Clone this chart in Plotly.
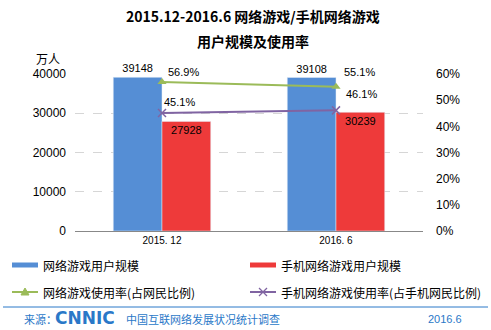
import plotly.graph_objects as go

categories = ["2015. 12", "2016. 6"]
game_users = [39148, 39108]
mobile_game_users = [27928, 30239]
game_rate = [56.9, 55.1]
mobile_game_rate = [45.1, 46.1]
left_ticks = [0, 10000, 20000, 30000, 40000]
right_ticks = [0, 10, 20, 30, 40, 50, 60]

W, H = 491, 330
L, R, T, B = 75, 423, 74, 231

def px(x):
    return (x - L) / (R - L)

def py(y):
    return (B - y) / (B - T)

BLUE = "#558ED5"
RED = "#EE3A3A"
GREEN = "#9BBB59"
PURPLE = "#8064A2"
FOOT = "#2A78C8"
CJK = "Noto Sans CJK SC, Microsoft YaHei, sans-serif"
NUM = "Liberation Sans, Arial, sans-serif"

fig = go.Figure()
fig.add_trace(go.Bar(x=categories, y=game_users, name="网络游戏用户规模",
                     marker_color=BLUE, text=[str(v) for v in game_users],
                     textposition="outside", textfont=dict(family=NUM, size=11, color="#000"),
                     cliponaxis=False))
fig.add_trace(go.Bar(x=categories, y=mobile_game_users, name="手机网络游戏用户规模",
                     marker_color=RED, text=[str(v) for v in mobile_game_users],
                     textposition="inside", insidetextanchor="end",
                     textfont=dict(family=NUM, size=11, color="#000")))
fig.add_trace(go.Scatter(x=categories, y=game_rate, yaxis="y2", mode="lines+markers",
                         line=dict(color=GREEN, width=2),
                         marker=dict(symbol="triangle-up", size=8, color=GREEN),
                         name="网络游戏使用率(占网民比例)"))
fig.add_trace(go.Scatter(x=categories, y=mobile_game_rate, yaxis="y2", mode="lines+markers",
                         line=dict(color=PURPLE, width=2),
                         marker=dict(symbol="x-thin", size=8, color=PURPLE,
                                     line=dict(color=PURPLE, width=1.5)),
                         name="手机网络游戏使用率(占手机网民比例)"))

def note(x, y, text, font, xanchor="center"):
    return dict(xref="paper", yref="paper", x=px(x), y=py(y), text=text, showarrow=False,
                xanchor=xanchor, yanchor="middle", font=font)

ann = []
g_shift = [(21, 10), (23, 15)]
m_shift = [(17, 11), (25, 16)]
for i, c in enumerate(categories):
    ann.append(dict(x=c, y=game_rate[i], yref="y2", text=f"{game_rate[i]}%", showarrow=False,
                    xshift=g_shift[i][0], yshift=g_shift[i][1], xanchor="center", yanchor="middle",
                    font=dict(family=NUM, size=11, color="#000")))
    ann.append(dict(x=c, y=mobile_game_rate[i], yref="y2", text=f"{mobile_game_rate[i]}%", showarrow=False,
                    xshift=m_shift[i][0], yshift=m_shift[i][1], xanchor="center", yanchor="middle",
                    font=dict(family=NUM, size=11, color="#000")))

# title
ann.append(note(253, 16, "<b>2015.12-2016.6 网络游戏/手机网络游戏</b>", dict(family=CJK, size=14, color="#000")))
ann.append(note(253, 41, "<b>用户规模及使用率</b>", dict(family=CJK, size=14, color="#000")))
ann.append(note(48, 58, "万人", dict(family=CJK, size=12, color="#000")))

# legend
shapes = []
leg = [(12, 265, BLUE, "bar", "网络游戏用户规模"),
       (250, 265, RED, "bar", "手机网络游戏用户规模"),
       (12, 292, GREEN, "tri", "网络游戏使用率(占网民比例)"),
       (250, 292, PURPLE, "x", "手机网络游戏使用率(占手机网民比例)")]
for x0, y0, col, kind, txt in leg:
    w = 5 if kind == "bar" else 2
    shapes.append(dict(type="line", xref="paper", yref="paper", x0=px(x0), x1=px(x0 + 26),
                       y0=py(y0), y1=py(y0), line=dict(color=col, width=w)))
    ann.append(note(x0 + 29, y0, txt, dict(family=CJK, size=12, color="#000"), xanchor="left"))
    cx = x0 + 13
    if kind == "tri":
        path = (f"M {px(cx-4)} {py(y0+3)} L {px(cx+4)} {py(y0+3)} L {px(cx)} {py(y0-4)} Z")
        shapes.append(dict(type="path", xref="paper", yref="paper", path=path,
                           fillcolor=col, line=dict(color=col, width=1)))
    elif kind == "x":
        shapes.append(dict(type="line", xref="paper", yref="paper", x0=px(cx-4), x1=px(cx+4),
                           y0=py(y0-4), y1=py(y0+4), line=dict(color=col, width=1.3)))
        shapes.append(dict(type="line", xref="paper", yref="paper", x0=px(cx-4), x1=px(cx+4),
                           y0=py(y0+4), y1=py(y0-4), line=dict(color=col, width=1.3)))

# footer
shapes.append(dict(type="line", xref="paper", yref="paper", x0=px(3), x1=px(488),
                   y0=py(307), y1=py(307), line=dict(color=FOOT, width=1)))
ann.append(note(22, 319, "来源：", dict(family=CJK, size=11, color=FOOT), xanchor="left"))
ann.append(note(53, 318, "<b>CNNIC</b>", dict(family="DejaVu Sans", size=17, color=FOOT), xanchor="left"))
ann.append(note(124, 319, "中国互联网络发展状况统计调查", dict(family=CJK, size=11, color=FOOT), xanchor="left"))
ann.append(note(426, 319, "2016.6", dict(family=NUM, size=11, color=FOOT), xanchor="left"))

fig.update_layout(
    width=W, height=H, margin=dict(l=L, r=W - R, t=T, b=H - B),
    paper_bgcolor="white", plot_bgcolor="white",
    barmode="group", bargap=0.44, bargroupgap=0, showlegend=False,
    xaxis=dict(type="category", showline=True, linecolor="#888", linewidth=1,
               tickfont=dict(family=NUM, size=10, color="#000"), ticks=""),
    yaxis=dict(range=[0, 40000], tickvals=left_ticks, ticktext=[str(v) for v in left_ticks],
               showgrid=True, gridcolor="#D6D6D6",
               griddash="dash", zeroline=False, tickfont=dict(family=NUM, size=12, color="#000"),
               ticklabelstandoff=8),
    yaxis2=dict(range=[0, 60], tickvals=right_ticks, ticktext=[f"{v}%" for v in right_ticks],
                overlaying="y", side="right", showgrid=False, zeroline=False,
                tickfont=dict(family=NUM, size=12, color="#000"), ticklabelstandoff=12),
    annotations=ann, shapes=shapes,
)
fig.write_html("out.html")
